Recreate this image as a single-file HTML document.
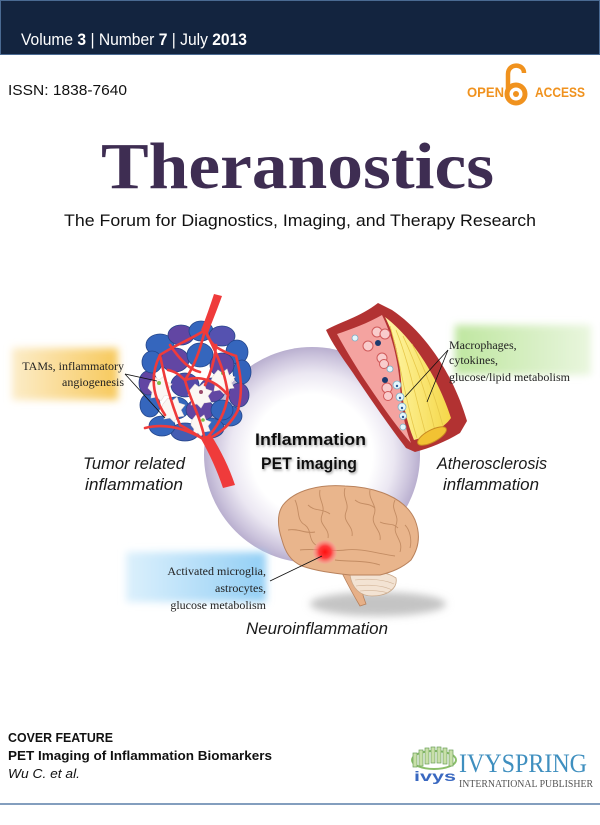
<!DOCTYPE html>
<html><head><meta charset="utf-8"><style>
html,body{margin:0;padding:0;background:#fff;}
svg{display:block;}
</style></head><body>
<svg width="600" height="825" viewBox="0 0 600 825" xmlns="http://www.w3.org/2000/svg">
<defs>
<radialGradient id="ring" cx="312" cy="455" r="108" gradientUnits="userSpaceOnUse">
<stop offset="0" stop-color="#ffffff"/><stop offset="0.56" stop-color="#ffffff"/><stop offset="0.76" stop-color="#ebe7f2"/><stop offset="0.92" stop-color="#cbc3dc"/><stop offset="1" stop-color="#b9afcf"/>
</radialGradient>
<linearGradient id="og" x1="0" x2="1" y1="0" y2="0"><stop offset="0" stop-color="#fcecc8"/><stop offset="1" stop-color="#f7c95c"/></linearGradient>
<linearGradient id="gg" x1="0" x2="1" y1="0" y2="0"><stop offset="0" stop-color="#bfe6a0"/><stop offset="1" stop-color="#e9f6de"/></linearGradient>
<linearGradient id="bg" x1="0" x2="1" y1="0" y2="0"><stop offset="0" stop-color="#dcf0fc"/><stop offset="1" stop-color="#93cff5"/></linearGradient>
<linearGradient id="yel" x1="0" x2="1" y1="0" y2="0"><stop offset="0" stop-color="#fff7a8"/><stop offset="1" stop-color="#f5d748"/></linearGradient>
<radialGradient id="spot"><stop offset="0" stop-color="#ff1010"/><stop offset="0.5" stop-color="#ff3b3b"/><stop offset="1" stop-color="#ff9a9a" stop-opacity="0.3"/></radialGradient>
<filter id="blur4" x="-20%" y="-40%" width="140%" height="180%"><feGaussianBlur stdDeviation="4"/></filter>
<filter id="blur3" x="-20%" y="-60%" width="140%" height="220%"><feGaussianBlur stdDeviation="4"/></filter>
<filter id="tsh" x="-10%" y="-30%" width="120%" height="160%"><feDropShadow dx="1" dy="1.5" stdDeviation="1.2" flood-color="#777" flood-opacity="0.7"/></filter>
</defs>

<!-- header band -->
<rect x="0.5" y="0.5" width="599" height="54" fill="#13243f" stroke="#4a6a92" stroke-width="1"/>
<text x="21" y="45" font-family="Liberation Sans, sans-serif" font-size="17" fill="#fff" textLength="226" lengthAdjust="spacingAndGlyphs">Volume <tspan font-weight="bold">3</tspan> | Number <tspan font-weight="bold">7</tspan> | July <tspan font-weight="bold">2013</tspan></text>

<text x="8" y="95" font-family="Liberation Sans, sans-serif" font-size="15" fill="#111" textLength="119" lengthAdjust="spacingAndGlyphs">ISSN: 1838-7640</text>

<!-- open access -->
<g fill="#f0921e">
<text x="467" y="97" font-family="Liberation Sans, sans-serif" font-weight="bold" font-size="14" textLength="37" lengthAdjust="spacingAndGlyphs">OPEN</text>
<text x="535" y="97" font-family="Liberation Sans, sans-serif" font-weight="bold" font-size="14" textLength="50" lengthAdjust="spacingAndGlyphs">ACCESS</text>
</g>
<circle cx="516" cy="94" r="9" fill="none" stroke="#f0921e" stroke-width="5"/>
<circle cx="516" cy="94" r="3" fill="#f0921e"/>
<path d="M508,90 L508,74 C508,63 524,63 524,73" fill="none" stroke="#f0921e" stroke-width="4.5"/>

<!-- title -->
<text x="101" y="188" font-family="Liberation Serif, serif" font-weight="bold" font-size="66" fill="#3e2d52" textLength="393" lengthAdjust="spacingAndGlyphs">Theranostics</text>
<text x="64" y="226" font-family="Liberation Sans, sans-serif" font-size="17" fill="#111" textLength="472" lengthAdjust="spacingAndGlyphs">The Forum for Diagnostics, Imaging, and Therapy Research</text>

<!-- ring -->
<circle cx="312" cy="455" r="108" fill="url(#ring)"/>

<!-- label boxes -->
<rect x="12" y="348" width="106" height="52" fill="url(#og)" filter="url(#blur4)"/>
<rect x="455" y="325" width="136" height="50" fill="url(#gg)" filter="url(#blur4)"/>
<rect x="126" y="552" width="140" height="50" fill="url(#bg)" filter="url(#blur4)"/>

<!-- tumor -->
<g stroke="#24458a" stroke-width="0.8">
<ellipse cx="160" cy="345" rx="14" ry="11" fill="#3566bd"/>
<ellipse cx="181" cy="335" rx="13" ry="10" fill="#6246a3"/>
<ellipse cx="201" cy="331" rx="12" ry="10" fill="#3566bd"/>
<ellipse cx="222" cy="336" rx="13" ry="10" fill="#5552b0"/>
<ellipse cx="237" cy="352" rx="11" ry="12" fill="#3566bd"/>
<ellipse cx="242" cy="372" rx="9" ry="12" fill="#3363bb"/>
<ellipse cx="239" cy="395" rx="10" ry="12" fill="#6246a3"/>
<ellipse cx="230" cy="416" rx="12" ry="10" fill="#3566bd"/>
<ellipse cx="210" cy="428" rx="14" ry="10" fill="#3566bd"/>
<ellipse cx="185" cy="432" rx="14" ry="9" fill="#455db2"/>
<ellipse cx="162" cy="426" rx="13" ry="10" fill="#3566bd"/>
<ellipse cx="150" cy="405" rx="10" ry="12" fill="#3566bd"/>
<ellipse cx="148" cy="383" rx="9" ry="12" fill="#6246a3"/>
<ellipse cx="152" cy="362" rx="10" ry="11" fill="#3566bd"/>
<ellipse cx="175" cy="360" rx="14" ry="12" fill="#6246a3"/>
<ellipse cx="200" cy="355" rx="13" ry="12" fill="#3566bd"/>
<ellipse cx="222" cy="365" rx="12" ry="12" fill="#6246a3"/>
<ellipse cx="185" cy="385" rx="14" ry="12" fill="#5549a8"/>
<ellipse cx="212" cy="390" rx="13" ry="12" fill="#6246a3"/>
<ellipse cx="176" cy="408" rx="13" ry="11" fill="#3566bd"/>
<ellipse cx="200" cy="410" rx="14" ry="11" fill="#6246a3"/>
<ellipse cx="222" cy="410" rx="11" ry="10" fill="#3566bd"/>
</g>
<g fill="#fbf7f4" stroke="#e8dcd8" stroke-width="0.6">
<path d="M150,383 l5,-6 l4,3 l5,-4 l2,6 l6,2 l-4,5 l3,6 l-7,1 l-3,5 l-4,-4 l-6,1 l1,-6 l-4,-4 z"/>
<path d="M190,390 l5,-6 l4,3 l5,-4 l2,6 l6,2 l-4,5 l3,6 l-7,1 l-3,5 l-4,-4 l-6,1 l1,-6 l-4,-4 z"/>
<path d="M213,376 l5,-6 l4,3 l5,-4 l2,6 l6,2 l-4,5 l3,6 l-7,1 l-3,5 l-4,-4 l-6,1 l1,-6 l-4,-4 z"/>
<path d="M163,404 l5,-6 l4,3 l5,-4 l2,6 l6,2 l-4,5 l3,6 l-7,1 l-3,5 l-4,-4 l-6,1 l1,-6 l-4,-4 z"/>
<path d="M192,420 l4,-5 l4,3 l4,-3 l2,5 l5,2 l-3,4 l2,5 l-6,1 l-3,4 l-3,-3 l-5,1 l1,-5 l-3,-4 z"/>
</g>
<circle cx="159" cy="383" r="2" fill="#7cc04a"/><circle cx="223" cy="373" r="2" fill="#7cc04a"/><circle cx="201" cy="392" r="2" fill="#9a4a6a"/><circle cx="203" cy="420" r="1.8" fill="#7cc04a"/>
<g fill="none" stroke="#ef3b3b" stroke-width="2.6" stroke-linecap="round">
<path d="M205,330 C190,340 175,345 160,355"/>
<path d="M205,330 C210,345 218,350 236,356"/>
<path d="M205,330 C200,350 195,365 185,380"/>
<path d="M205,330 C215,350 225,370 228,395"/>
<path d="M160,355 C165,380 170,400 180,425"/>
<path d="M185,380 C190,400 200,415 205,440"/>
<path d="M228,395 C225,415 215,430 205,440"/>
<path d="M236,356 C241,375 243,390 238,410"/>
<path d="M160,355 C150,375 152,395 165,415"/>
<path d="M180,425 C190,430 198,436 205,440"/>
<path d="M145,428 C165,423 185,428 205,440"/>
<path d="M185,380 C200,375 215,380 228,395"/>
<path d="M170,345 C180,360 190,370 200,372"/>
<path d="M216,345 C215,360 210,375 205,385"/>
<path d="M238,410 C232,422 222,432 210,438"/>
<path d="M168,370 C178,372 182,378 185,380"/>
</g>
<path d="M214,294 L222,296 C217,310 212,322 208,333 L201,330 C206,318 210,306 214,294 Z" fill="#ef3b3b"/>
<path d="M200,437 C210,455 217,470 223,488 L235,485 C229,467 221,451 211,435 Z" fill="#ef3b3b"/>
<g stroke="#111" stroke-width="0.8" fill="none"><path d="M125,374 L157,381"/><path d="M125,374 L165,418"/></g>

<!-- vessel -->
<path d="M326,330 C340,322 360,317 378,303 L392,310 C422,330 452,370 467,421 L460,433 C445,442 430,448 415,452 L406,448 C389,426 369,397 353,373 C341,356 332,343 326,330 Z" fill="#b23232"/>
<path d="M337,334 C352,329 368,323 382,315 C392,335 398,360 400,385 C401,405 404,425 411,443 C395,425 378,400 362,376 C352,360 344,347 337,334 Z" fill="#f4a3a0"/>
<path d="M385,317 C410,336 436,372 451,418 C443,429 428,436 414,440 C406,420 402,400 401,380 C399,355 394,334 385,317 Z" fill="url(#yel)"/>
<g stroke="#e7c84a" stroke-width="0.8" fill="none">
<path d="M390,326 C400,360 405,400 417,438"/><path d="M396,330 C409,362 416,400 426,435"/><path d="M403,336 C418,368 428,400 435,431"/><path d="M412,344 C427,372 436,400 443,426"/>
</g>
<ellipse cx="432" cy="436" rx="16" ry="6" transform="rotate(-28 432 436)" fill="#f2c233" stroke="#c98a22" stroke-width="1"/>
<g fill="#f9cccc" stroke="#d05a5a" stroke-width="1">
<circle cx="377" cy="332" r="5"/><circle cx="385" cy="334" r="5"/><circle cx="368" cy="346" r="5"/><circle cx="382" cy="358" r="5"/><circle cx="384" cy="364" r="4.5"/><circle cx="387" cy="388" r="5"/><circle cx="388" cy="396" r="4.5"/>
</g>
<circle cx="378" cy="343" r="3" fill="#1b3a6e"/><circle cx="385" cy="380" r="3" fill="#1b3a6e"/>
<g fill="#e6f6fb" stroke="#7aaec4" stroke-width="0.8">
<circle cx="355" cy="338" r="3"/><circle cx="390" cy="369" r="3"/><circle cx="397" cy="385" r="4"/><circle cx="400" cy="397" r="4"/><circle cx="402" cy="407" r="4"/><circle cx="403" cy="416" r="3.5"/><circle cx="403" cy="427" r="3"/>
</g>
<g fill="#2a5a9a"><circle cx="397" cy="386" r="1.2"/><circle cx="400" cy="398" r="1.2"/><circle cx="402" cy="408" r="1.2"/><circle cx="403" cy="417" r="1.2"/></g>
<g stroke="#111" stroke-width="0.8" fill="none"><path d="M448,350 L405,397"/><path d="M448,350 L427,402"/></g>

<!-- brain -->
<ellipse cx="378" cy="604" rx="68" ry="12" fill="#c4c4c4" filter="url(#blur3)"/>
<path d="M342,573 C348,585 354,596 360,606 L366,604 C362,594 360,584 360,573 Z" fill="#e6b088" stroke="#b8805a" stroke-width="0.8"/>
<path d="M350,575 C360,570 385,570 396,578 C398,588 388,596 372,596 C360,596 352,588 350,575 Z" fill="#f3e3d3" stroke="#c9a88a" stroke-width="0.8"/>
<g stroke="#d2b498" stroke-width="0.6" fill="none"><path d="M355,580 C370,578 385,580 394,584"/><path d="M356,586 C370,584 384,586 392,590"/><path d="M360,591 C372,590 382,591 388,593"/></g>
<path d="M283,505 C295,490 320,484 345,486 C375,487 405,497 415,520 C421,535 419,548 411,560 C402,568 392,572 380,575 L350,575 C332,573 316,571 302,566 C290,561 285,551 282,540 C278,528 276,515 283,505 Z" fill="#e9b58c" stroke="#b9825c" stroke-width="1"/>
<g stroke="#c38c63" stroke-width="0.9" fill="none">
<path d="M295,500 C300,510 296,520 305,525 C312,530 308,540 316,545"/>
<path d="M320,490 C318,500 326,505 322,515 C318,525 330,528 328,538"/>
<path d="M345,488 C342,498 350,503 346,512 C342,522 354,526 352,536"/>
<path d="M370,490 C368,500 378,505 374,515 C370,525 382,530 380,540"/>
<path d="M395,500 C390,510 400,515 396,525 C392,535 404,540 400,552"/>
<path d="M300,550 C315,548 330,552 345,550 C360,548 375,553 395,556"/>
<path d="M288,530 C298,528 305,534 315,532"/>
<path d="M335,560 C350,562 365,560 380,565"/>
<path d="M405,525 C410,530 412,540 410,548"/>
<path d="M308,505 C315,512 322,508 330,514"/>
<path d="M355,500 C362,506 368,502 375,508"/>
<path d="M380,522 C388,526 392,522 398,528"/>
</g>
<circle cx="325" cy="552" r="12" fill="url(#spot)"/>
<path d="M270,581 L322,556" stroke="#111" stroke-width="0.9"/>

<!-- labels -->
<g font-family="Liberation Serif, serif" font-size="12" fill="#222">
<text x="124" y="370" text-anchor="end">TAMs, inflammatory</text>
<text x="124" y="386" text-anchor="end">angiogenesis</text>
<text x="449" y="349">Macrophages,</text>
<text x="449" y="364">cytokines,</text>
<text x="449" y="381">glucose/lipid metabolism</text>
<text x="266" y="575" text-anchor="end">Activated microglia,</text>
<text x="266" y="592" text-anchor="end">astrocytes,</text>
<text x="266" y="609" text-anchor="end">glucose metabolism</text>
</g>
<g font-family="Liberation Sans, sans-serif" font-style="italic" font-size="17" fill="#1a1a1a">
<text x="83" y="469" textLength="102" lengthAdjust="spacingAndGlyphs">Tumor related</text>
<text x="85" y="490" textLength="98" lengthAdjust="spacingAndGlyphs">inflammation</text>
<text x="437" y="469" textLength="110" lengthAdjust="spacingAndGlyphs">Atherosclerosis</text>
<text x="443" y="490" textLength="96" lengthAdjust="spacingAndGlyphs">inflammation</text>
<text x="246" y="634" textLength="142" lengthAdjust="spacingAndGlyphs">Neuroinflammation</text>
</g>
<g font-family="Liberation Sans, sans-serif" font-weight="bold" font-size="17" fill="#111" filter="url(#tsh)">
<text x="255" y="445" textLength="111" lengthAdjust="spacingAndGlyphs">Inflammation</text>
<text x="261" y="469" textLength="96" lengthAdjust="spacingAndGlyphs">PET imaging</text>
</g>

<!-- bottom -->
<g font-family="Liberation Sans, sans-serif" font-size="13" fill="#111">
<text x="8" y="742" font-weight="bold" textLength="105" lengthAdjust="spacingAndGlyphs">COVER FEATURE</text>
<text x="8" y="760" font-weight="bold" textLength="264" lengthAdjust="spacingAndGlyphs">PET Imaging of Inflammation Biomarkers</text>
<text x="8" y="778" font-style="italic" textLength="72" lengthAdjust="spacingAndGlyphs">Wu C. et al.</text>
</g>
<!-- ivyspring logo -->
<ellipse cx="434" cy="760" rx="22" ry="9" fill="none" stroke="#8bbf6a" stroke-width="2"/>
<g fill="#c8e0a8" stroke="#6a9f5a" stroke-width="0.7">
<rect x="413" y="753" width="4" height="14"/><rect x="419" y="750" width="4" height="16"/><rect x="425" y="748" width="4" height="16"/><rect x="431" y="747" width="4" height="16"/><rect x="437" y="747" width="4" height="16"/><rect x="443" y="748" width="4" height="16"/><rect x="449" y="750" width="4" height="16"/>
</g>
<text x="414" y="781" font-family="Liberation Sans, sans-serif" font-weight="bold" font-size="14" fill="#3a68c0" textLength="42" lengthAdjust="spacingAndGlyphs">ivys</text>
<text x="459" y="772" font-family="Liberation Serif, serif" font-size="26" fill="#3f8fbf" textLength="128" lengthAdjust="spacingAndGlyphs">IVYSPRING</text>
<text x="459" y="787" font-family="Liberation Serif, serif" font-size="11" fill="#555" textLength="134" lengthAdjust="spacingAndGlyphs">INTERNATIONAL PUBLISHER</text>

<line x1="0" y1="804" x2="600" y2="804" stroke="#5a7fa8" stroke-width="1.5"/>
</svg>
</body></html>
